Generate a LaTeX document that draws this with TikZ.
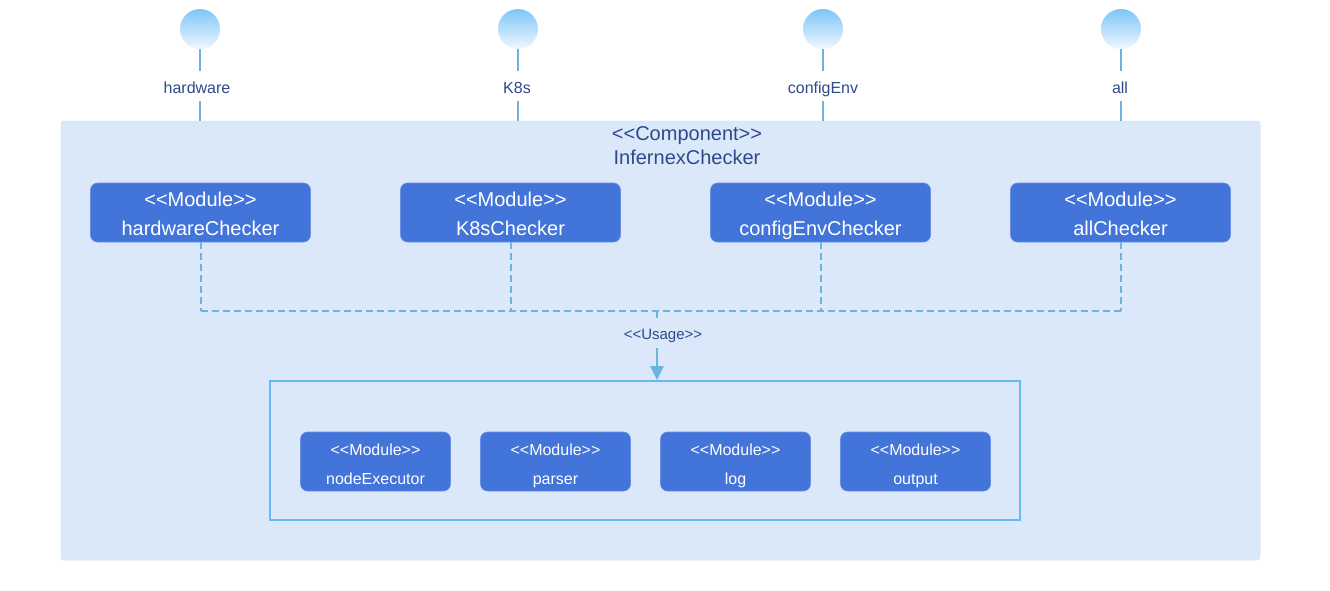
\documentclass[tikz,border=0pt]{standalone}
\usepackage{fontspec}
\setmainfont{Liberation Sans}
\usetikzlibrary{arrows.meta,shapes.geometric}
\definecolor{bgblue}{HTML}{DAE8FA}
\definecolor{modblue}{HTML}{4374D9}
\definecolor{txtblue}{HTML}{2E4A8B}
\definecolor{lineblue}{HTML}{6AB4DE}
\definecolor{rectblue}{HTML}{66B8F6}
\definecolor{circtop}{HTML}{7EC6F8}
\definecolor{circbot}{HTML}{F0F7FF}
\newcommand\stl{<\kern0pt<}
\newcommand\stg{>\kern0pt>}
\newcommand\mst{\rule[-5pt]{0pt}{26pt}}
\tikzset{
  iface/.style={circle,minimum size=40pt,inner sep=0pt,top color=circtop,bottom color=circbot,draw=none},
  ilabel/.style={text=txtblue,font=\fontsize{16}{19}\selectfont,inner sep=2pt,text height=12pt,text depth=4pt},
  iline/.style={draw=lineblue,line width=2pt},
  bigmod/.style={rectangle,rounded corners=7pt,fill=modblue,draw=modblue!80!white,line width=0.6pt,minimum width=220pt,minimum height=59pt,text=white,align=center,font=\fontsize{20}{29}\selectfont,inner sep=0pt},
  smallmod/.style={rectangle,rounded corners=7pt,fill=modblue,draw=modblue!80!white,line width=0.6pt,minimum width=150pt,minimum height=59pt,text=white,align=center,font=\fontsize{16}{29}\selectfont,inner sep=0pt},
  usedash/.style={draw=lineblue,line width=2pt,dash pattern=on 7pt off 4pt},
}
\begin{document}
\begin{tikzpicture}[x=1pt,y=-1pt]
\useasboundingbox[fill=white] (0,0) rectangle (1330,590);
% component
\node[rectangle,rounded corners=3pt,fill=bgblue,draw=bgblue!90!lineblue,line width=0.5pt,minimum width=1199pt,minimum height=439pt,inner sep=0pt] (comp) at (660.5,340.5) {};
\node[text=txtblue,align=center,font=\fontsize{20}{24}\selectfont] (title) at (687,146) {\stl Component\stg\\InfernexChecker};
% interfaces
\node[iface] (i1) at (200,29) {};
\node[iface] (i2) at (518,29) {};
\node[iface] (i3) at (823,29) {};
\node[iface] (i4) at (1121,29) {};
\node[ilabel] (l1) at (197,89) {hardware};
\node[ilabel] (l2) at (517,89) {K8s};
\node[ilabel] (l3) at (823,89) {configEnv};
\node[ilabel] (l4) at (1120,89) {all};
\foreach \k/\x in {1/200,2/518,3/823,4/1121}{
  \draw[iline] (i\k.south) -- (\x,71);
  \draw[iline] (\x,101) -- (\x,101 |- comp.north);
}
% top modules
\node[bigmod] (m1) at (200.5,212.5) {\stl Module\stg\mst\\hardwareChecker\mst};
\node[bigmod] (m2) at (510.5,212.5) {\stl Module\stg\mst\\K8sChecker\mst};
\node[bigmod] (m3) at (820.5,212.5) {\stl Module\stg\mst\\configEnvChecker\mst};
\node[bigmod] (m4) at (1120.5,212.5) {\stl Module\stg\mst\\allChecker\mst};
% inner rect
\node[rectangle,draw=rectblue,line width=1.8pt,minimum width=750pt,minimum height=139pt,inner sep=0pt] (inner) at (645,450.5) {};
\node[smallmod] (s1) at (375.5,461.5) {\stl Module\stg\mst\\nodeExecutor\mst};
\node[smallmod] (s2) at (555.5,461.5) {\stl Module\stg\mst\\parser\mst};
\node[smallmod] (s3) at (735.5,461.5) {\stl Module\stg\mst\\log\mst};
\node[smallmod] (s4) at (915.5,461.5) {\stl Module\stg\mst\\output\mst};
% usage connectors
\coordinate (j) at (657,311);
\draw[usedash] (m1.south) -- (m1.south |- j);
\draw[usedash] (m2.south) -- (m2.south |- j);
\draw[usedash] (m3.south) -- (m3.south |- j);
\draw[usedash] (m4.south) -- (m4.south |- j);
\draw[usedash] (m1.south |- j) -- (m4.south |- j);
\node[text=txtblue,font=\fontsize{15}{18}\selectfont,inner sep=2pt,text height=11pt,text depth=4pt] (usage) at (663,336) {\stl Usage\stg};
\draw[usedash] (j) -- (657,318);
\draw[draw=lineblue,line width=2.8pt,-{Triangle[length=14pt,width=13pt]}] (657,348) -- (657,348 |- inner.north);
\end{tikzpicture}
\end{document}
